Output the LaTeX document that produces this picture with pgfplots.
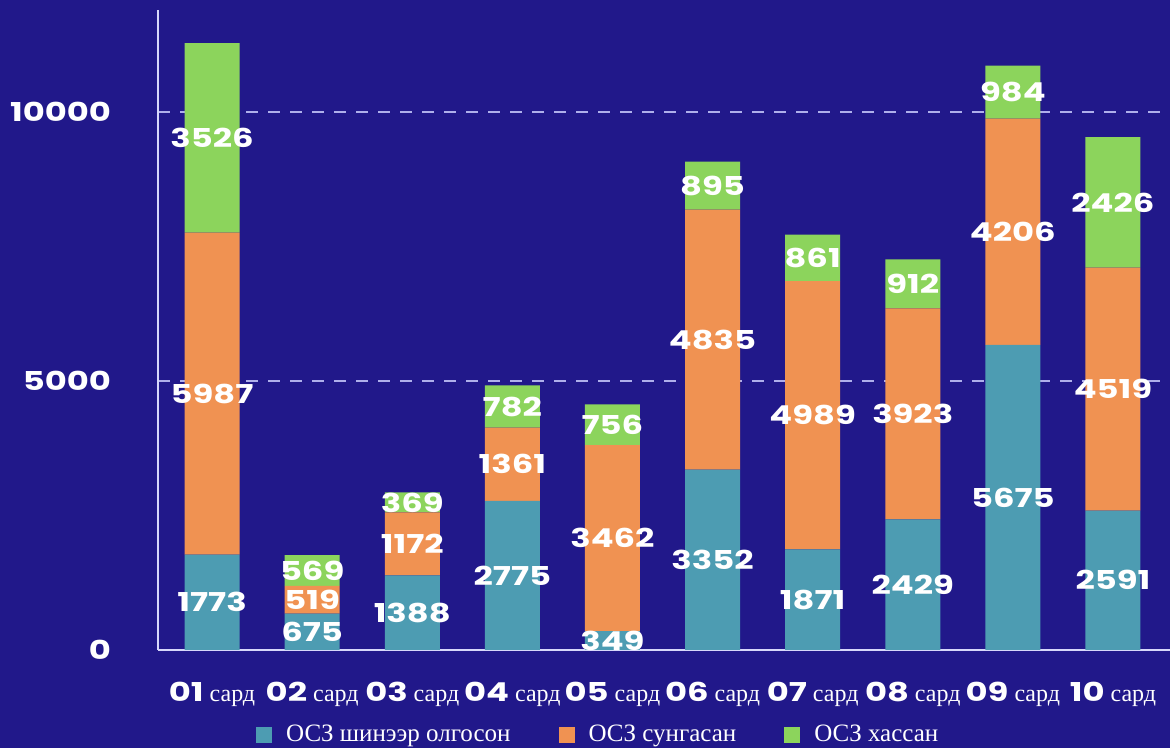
\documentclass[border=0pt]{standalone}
\usepackage{fontspec}
\setmainfont{Liberation Serif}
\newfontfamily\numfont[FakeStretch=1.3]{Poppins}
\usepackage{pgfplots}
\usepackage{pgfplotstable}
\pgfplotsset{compat=1.18}

\definecolor{bg}{RGB}{33,24,138}
\definecolor{cteal}{RGB}{77,156,178}
\definecolor{corange}{RGB}{240,146,82}
\definecolor{cgreen}{RGB}{140,212,92}
\definecolor{axl}{RGB}{215,215,250}
\definecolor{gridc}{RGB}{175,175,235}

% month, new, extended, lost
\pgfplotstableread{
x a b c
0 1773 5987 3526
1 675 519 569
2 1388 1172 369
3 2775 1361 782
4 349 3462 756
5 3352 4835 895
6 1871 4989 861
7 2429 3923 912
8 5675 4206 984
9 2591 4519 2426
}\data

\newcommand{\nf}{\numfont\bfseries\fontsize{13}{13}\selectfont}
\newcommand{\m}[1]{{\nf #1}\ сард}

\begin{document}
\begin{tikzpicture}
\fill[bg] (0,0) rectangle (585pt,374pt);
\useasboundingbox (0,0) rectangle (585pt,374pt);
\begin{axis}[
    at={(79pt,49pt)}, anchor=south west,
    scale only axis, width=506pt, height=320pt,
    ybar stacked, bar width=27.5pt,
    ymin=0, ymax=11900, xmin=-0.54, xmax=9.57,
    axis x line=bottom, axis y line=left,
    axis line style={-, draw=axl},
    x axis line style={line width=1.4pt},
    y axis line style={line width=0.8pt},
    major tick length=0pt, tick style={draw=none},
    ytick={0,5000,10000}, yticklabels={0,5000,10000},
    yticklabel style={font=\nf, text=white, anchor=east, xshift=-20pt},
    xtick={0,...,9},
    xticklabels={\m{01},\m{02},\m{03},\m{04},\m{05},\m{06},\m{07},\m{08},\m{09},\m{10}},
    xticklabel style={font=\fontsize{12}{12}\selectfont, text=white, anchor=base, yshift=-25.5pt},
    ymajorgrids, grid style={draw=gridc, line width=0.8pt, dash pattern=on 6pt off 5pt},
    /pgf/number format/1000 sep={},
    /pgf/number format/assume math mode=true,
    point meta=explicit,
    nodes near coords,
    every node near coord/.append style={font=\nf, text=white, anchor=center},
    clip=false,
    legend columns=3,
    legend image code/.code={\fill[#1] (0pt,-4pt) rectangle (8pt,4pt);},
    legend style={at={(0.436,-0.133)}, anchor=center, draw=none, fill=none, text=white,
        font=\fontsize{12.5}{14}\selectfont,
        /tikz/every odd column/.append style={column sep=5pt},
        /tikz/every even column/.append style={column sep=22pt}},
]
\addplot[fill=cteal, draw=none] table[x=x, y=a, meta=a] {\data};
\addplot[fill=corange, draw=none] table[x=x, y=b, meta=b] {\data};
\addplot[fill=cgreen, draw=none] table[x=x, y=c, meta=c] {\data};
\legend{ОСЗ шинээр олгосон, ОСЗ сунгасан, ОСЗ хассан}
\end{axis}
\end{tikzpicture}
\end{document}
